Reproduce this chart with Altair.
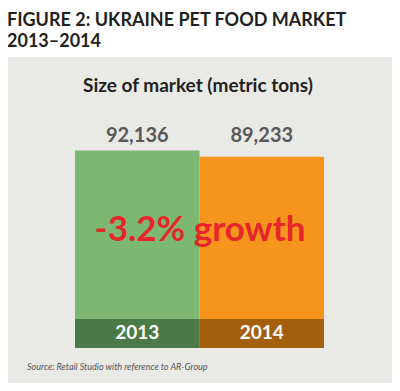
import altair as alt
import pandas as pd

# ---- data ----
years = ["2013", "2014"]
tons = [92136, 89233]
bar_colors = ["#7cb872", "#f7941d"]
band_colors = ["#4b7a48", "#a35f0c"]
title_lines = ["FIGURE 2: UKRAINE PET FOOD MARKET", "2013\u20132014"]
subtitle = "Size of market (metric tons)"
growth_label = "-3.2% growth"
source_note = "Source: Retail Studio with reference to AR-Group"

W, H = 384, 375
FONT = "Lato"

df = pd.DataFrame({"year": years, "tons": tons,
                   "label": [f"{v:,}" for v in tons]})
one = pd.DataFrame({"k": [0]})

xenc = alt.X("year:N", axis=None,
             scale=alt.Scale(domain=years, range=[67, 316],
                             paddingInner=0, paddingOuter=0))
yenc = alt.Y("tons:Q", axis=None,
             scale=alt.Scale(domain=[0, 100000], range=[340, 125.6],
                             nice=False, zero=True))

panel = alt.Chart(one).mark_rect(color="#e9e9e5").encode(
    x=alt.value(-2), x2=alt.value(386), y=alt.value(49), y2=alt.value(380))

bars = alt.Chart(df).mark_bar().encode(
    x=xenc, y=yenc, y2=alt.datum(0),
    color=alt.Color("year:N", legend=None,
                    scale=alt.Scale(domain=years, range=bar_colors)))

bands = alt.Chart(df).mark_bar().encode(
    x=xenc, y=alt.value(311), y2=alt.value(340),
    fill=alt.Fill("year:N", legend=None,
                  scale=alt.Scale(domain=years, range=band_colors)))

year_text = alt.Chart(df).mark_text(
    font=FONT, fontSize=19, fontWeight="bold", color="white",
    baseline="alphabetic").encode(x=xenc, y=alt.value(331), text="year:N")

value_text = alt.Chart(df).mark_text(
    font=FONT, fontSize=20, fontWeight="bold", color="#58585a",
    baseline="alphabetic").encode(x=xenc, y=alt.value(134), text="label:N")

def label(txt, x, y, size, weight="normal", color="#231f20", align="left",
          style="normal"):
    return alt.Chart(one).mark_text(
        font=FONT, fontSize=size, fontWeight=weight, color=color,
        align=align, baseline="alphabetic", fontStyle=style).encode(
        x=alt.value(x), y=alt.value(y), text=alt.value(txt))

t1 = label(title_lines[0], -1, 18, 18, "bold")
t2 = label(title_lines[1], -1, 39, 18, "bold")
sub = label(subtitle, 190, 84, 19, "bold", align="center")
growth = label(growth_label, 192, 233, 35, "bold", color="#e5262a",
               align="center")
src = label(source_note, 19, 362, 9, color="#555555", style="italic")

chart = alt.layer(panel, bars, bands, year_text, value_text,
                  t1, t2, sub, growth, src).resolve_scale(
    color="independent", fill="independent").properties(
    width=W, height=H, padding=0,
    autosize=alt.AutoSizeParams(type="none"),
    background="white",
).configure_view(stroke=None)

chart.save("out.html", embed_options={"renderer": "svg", "actions": False})
